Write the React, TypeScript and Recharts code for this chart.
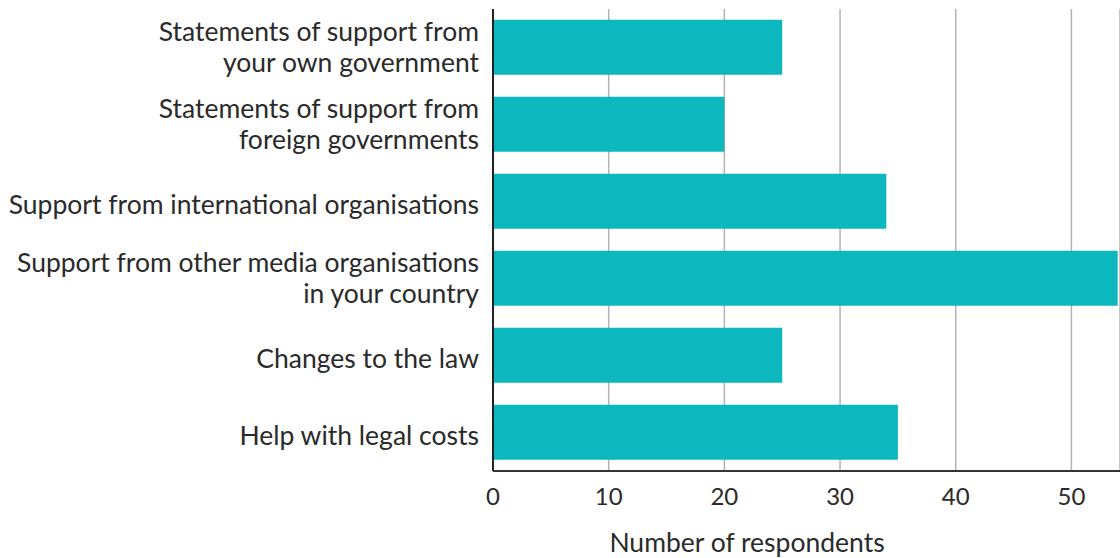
import { Bar, BarChart, CartesianGrid, XAxis, YAxis } from "recharts"

const categories = [
  ["Statements of support from", "your own government"],
  ["Statements of support from", "foreign governments"],
  ["Support from international organisations"],
  ["Support from other media organisations", "in your country"],
  ["Changes to the law"],
  ["Help with legal costs"],
]
const respondents = [25, 20, 34, 54, 25, 35]
const xTicks = [0, 10, 20, 30, 40, 50]

const data = categories.map((lines, i) => ({ key: String(i), respondents: respondents[i] }))

const FONT = "Lato, 'Open Sans', sans-serif"
const TEXT = "#2a2a2a"

function CategoryTick({ x, y, payload }: any) {
  const lines = categories[Number(payload.value)]
  const start = lines.length > 1 ? -16 : 3
  return (
    <text x={x} y={y} textAnchor="end" fill={TEXT} fontSize={26.5} fontFamily={FONT}>
      {lines.map((l, i) => (
        <tspan key={i} x={x - 6} y={y + start + i * 31} dy="0.35em">
          {l}
        </tspan>
      ))}
    </text>
  )
}

function ValueTick({ x, y, payload }: any) {
  return (
    <text x={x} y={y + 32} textAnchor="middle" fill={TEXT} fontSize={24} fontFamily={FONT}>
      {payload.value}
    </text>
  )
}

export default function App() {
  return (
    <div style={{ position: "absolute", left: 0, top: 0, width: 1120, height: 558, background: "#fff" }}>
      <BarChart
        width={1120}
        height={558}
        data={data}
        layout="vertical"
        margin={{ top: 9, right: 0, bottom: 0, left: 0 }}
        barCategoryGap="14%"
      >
        <CartesianGrid horizontal={false} stroke="#b3b3b3" strokeWidth={1.5} />
        <XAxis
          type="number"
          domain={[0, 54.2]}
          ticks={xTicks}
          allowDataOverflow
          height={87}
          tickLine={false}
          tickSize={0}
          tick={<ValueTick />}
          axisLine={{ stroke: "#333", strokeWidth: 2 }}
          label={{
            content: (p: any) => (
              <text
                x={p.viewBox.x + 254}
                y={552}
                textAnchor="middle"
                fill={TEXT}
                fontSize={26.5}
                fontFamily={FONT}
              >
                Number of respondents
              </text>
            ),
          }}
        />
        <YAxis
          type="category"
          dataKey="key"
          width={493}
          tickLine={false}
          tick={<CategoryTick />}
          axisLine={{ stroke: "#222", strokeWidth: 2 }}
        />
        <Bar dataKey="respondents" fill="#0db7be" isAnimationActive={false} />
      </BarChart>
    </div>
  )
}
